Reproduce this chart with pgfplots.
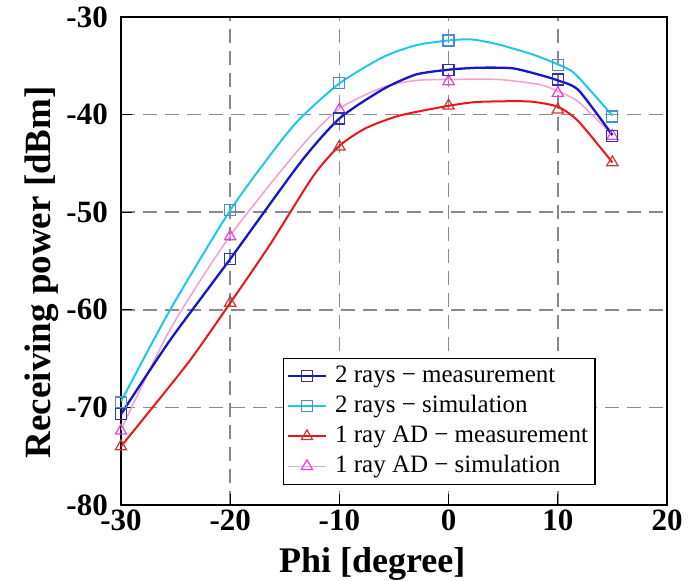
\documentclass[border=0pt]{standalone}
\usepackage{fontspec}
\setmainfont{Liberation Serif}
\usepackage{pgfplots}
\pgfplotsset{compat=1.18}

\definecolor{tmeas}{HTML}{1515CC}
\definecolor{tmeasmk}{HTML}{3030A8}
\definecolor{tsim}{HTML}{1EC8E6}
\definecolor{tsimmk}{HTML}{4A8AE2}
\definecolor{omeas}{HTML}{EE1414}
\definecolor{omeasmk}{HTML}{CC3535}
\definecolor{osim}{HTML}{F3A3D3}
\definecolor{osimmk}{HTML}{E63EE6}
\definecolor{gridgray}{HTML}{8A8A8A}

\begin{document}
\begin{tikzpicture}
\useasboundingbox (-121bp,-76bp) rectangle (568bp,505bp);
\begin{axis}[
  at={(0,0)}, anchor=south west,
  width=546bp, height=488bp, scale only axis,
  xmin=-30, xmax=20, ymin=-80, ymax=-30,
  xtick={-30,-20,...,20}, ytick={-80,-70,...,-30},
  tick align=inside, xtick pos=bottom, ytick pos=left,
  major tick length=11bp,
  tick style={black, line width=1bp},
  grid=major,
  major grid style={gridgray, line width=1.5bp, dash pattern=on 14bp off 8bp},
  axis line style={line width=1.8bp},
  /pgf/number format/assume math mode=true,
  ticklabel style={font=\fontsize{31bp}{31bp}\selectfont\bfseries, inner sep=0bp},
  xticklabel shift=5bp, yticklabel shift=13bp,
  xlabel={Phi [degree]},
  ylabel={Receiving power [dBm]},
  xlabel style={font=\fontsize{36bp}{36bp}\selectfont\bfseries,
    at={(axis description cs:0.46,-0.139)}, anchor=base, inner sep=0bp},
  ylabel style={font=\fontsize{37bp}{37bp}\selectfont\bfseries,
    at={(axis description cs:-0.13,0.477)}, anchor=base, rotate=0, inner sep=0bp},
  legend style={at={(0.297,0.041)}, anchor=south west, draw=black,
    line width=1.3bp, fill=white, inner sep=3bp,
    font=\fontsize{25bp}{25bp}\selectfont,
    nodes={inner sep=4bp, text height=17bp, text depth=5bp},
    column sep=4bp},
  legend cell align=left,
  legend image code/.code={\draw[mark repeat=2,mark phase=2]
    plot coordinates {(0bp,0bp) (19bp,0bp) (38bp,0bp)};},
]

% lines (read off the simulated / measured curves)
\addplot[osim, line width=1.6bp, smooth, tension=0.4, forget plot] coordinates {
(-30,-72.3) (-25.5,-62.0) (-20,-52.4) (-13.6,-43.4) (-10,-39.4) (-6,-37.2)
(-3,-36.5) (0,-36.4) (4.5,-36.4) (8.25,-36.9) (10,-37.6) (11.9,-38.7) (15,-42.1)};
\addplot[omeas, line width=2bp, smooth, tension=0.4, forget plot] coordinates {
(-30,-74.0) (-23.9,-65.5) (-20,-59.3) (-16.4,-53.4) (-12.4,-46.3) (-10,-43.2)
(-7.6,-41.4) (-4.5,-40.1) (0,-39.1) (2.7,-38.7) (7.3,-38.65) (10,-39.2)
(11.9,-40.7) (15,-44.9)};
\addplot[tsim, line width=2bp, smooth, tension=0.4, forget plot] coordinates {
(-30,-69.4) (-25.5,-60.0) (-20,-49.8) (-15.9,-43.5) (-13.6,-40.4) (-10,-36.8)
(-6,-34.1) (-3,-32.9) (0,-32.4) (2.1,-32.3) (4.5,-32.8) (7.6,-33.8) (10,-34.85)
(11.6,-35.85) (15,-40.1)};
\addplot[tmeas, line width=2.3bp, smooth, tension=0.4, forget plot] coordinates {
(-30,-70.7) (-25.5,-63.1) (-20,-54.8) (-13.6,-44.95) (-10,-40.4) (-6,-37.4)
(-3,-35.9) (0,-35.4) (2.7,-35.2) (5.8,-35.25) (8.25,-35.9) (10,-36.5)
(11.9,-37.5) (15,-42.1)};

% markers at the measured angles
\addplot[only marks, mark=triangle, mark size=6.5bp, osimmk, line width=1.2bp, forget plot]
  coordinates {(-30,-72.4) (-20,-52.5) (-10,-39.5) (0,-36.6) (10,-37.8) (15,-42.2)};
\addplot[only marks, mark=triangle, mark size=6.5bp, omeasmk, line width=1.2bp, forget plot]
  coordinates {(-30,-74.0) (-20,-59.3) (-10,-43.3) (0,-39.1) (10,-39.5) (15,-44.9)};
\addplot[only marks, mark=square, mark size=5.5bp, tsimmk, line width=1.2bp, forget plot]
  coordinates {(-30,-69.5) (-20,-49.8) (-10,-36.8) (0,-32.4) (10,-34.9) (15,-40.2)};
\addplot[only marks, mark=square, mark size=5.5bp, tmeasmk, line width=1.2bp, forget plot]
  coordinates {(-30,-70.7) (-20,-54.8) (-10,-40.4) (0,-35.4) (10,-36.4) (15,-42.2)};

\addlegendimage{tmeas, line width=2.3bp, mark=square, mark size=5.5bp,
  mark options={draw=tmeasmk, line width=1.2bp}}
\addlegendentry{2 rays − measurement}
\addlegendimage{tsim, line width=2bp, mark=square, mark size=5.5bp,
  mark options={draw=tsimmk, line width=1.2bp}}
\addlegendentry{2 rays − simulation}
\addlegendimage{omeas, line width=2bp, mark=triangle, mark size=6.5bp,
  mark options={draw=omeasmk, line width=1.2bp}}
\addlegendentry{1 ray AD − measurement}
\addlegendimage{osim, line width=1.6bp, mark=triangle, mark size=6.5bp,
  mark options={draw=osimmk, line width=1.2bp}}
\addlegendentry{1 ray AD − simulation}
\end{axis}
\end{tikzpicture}
\end{document}
